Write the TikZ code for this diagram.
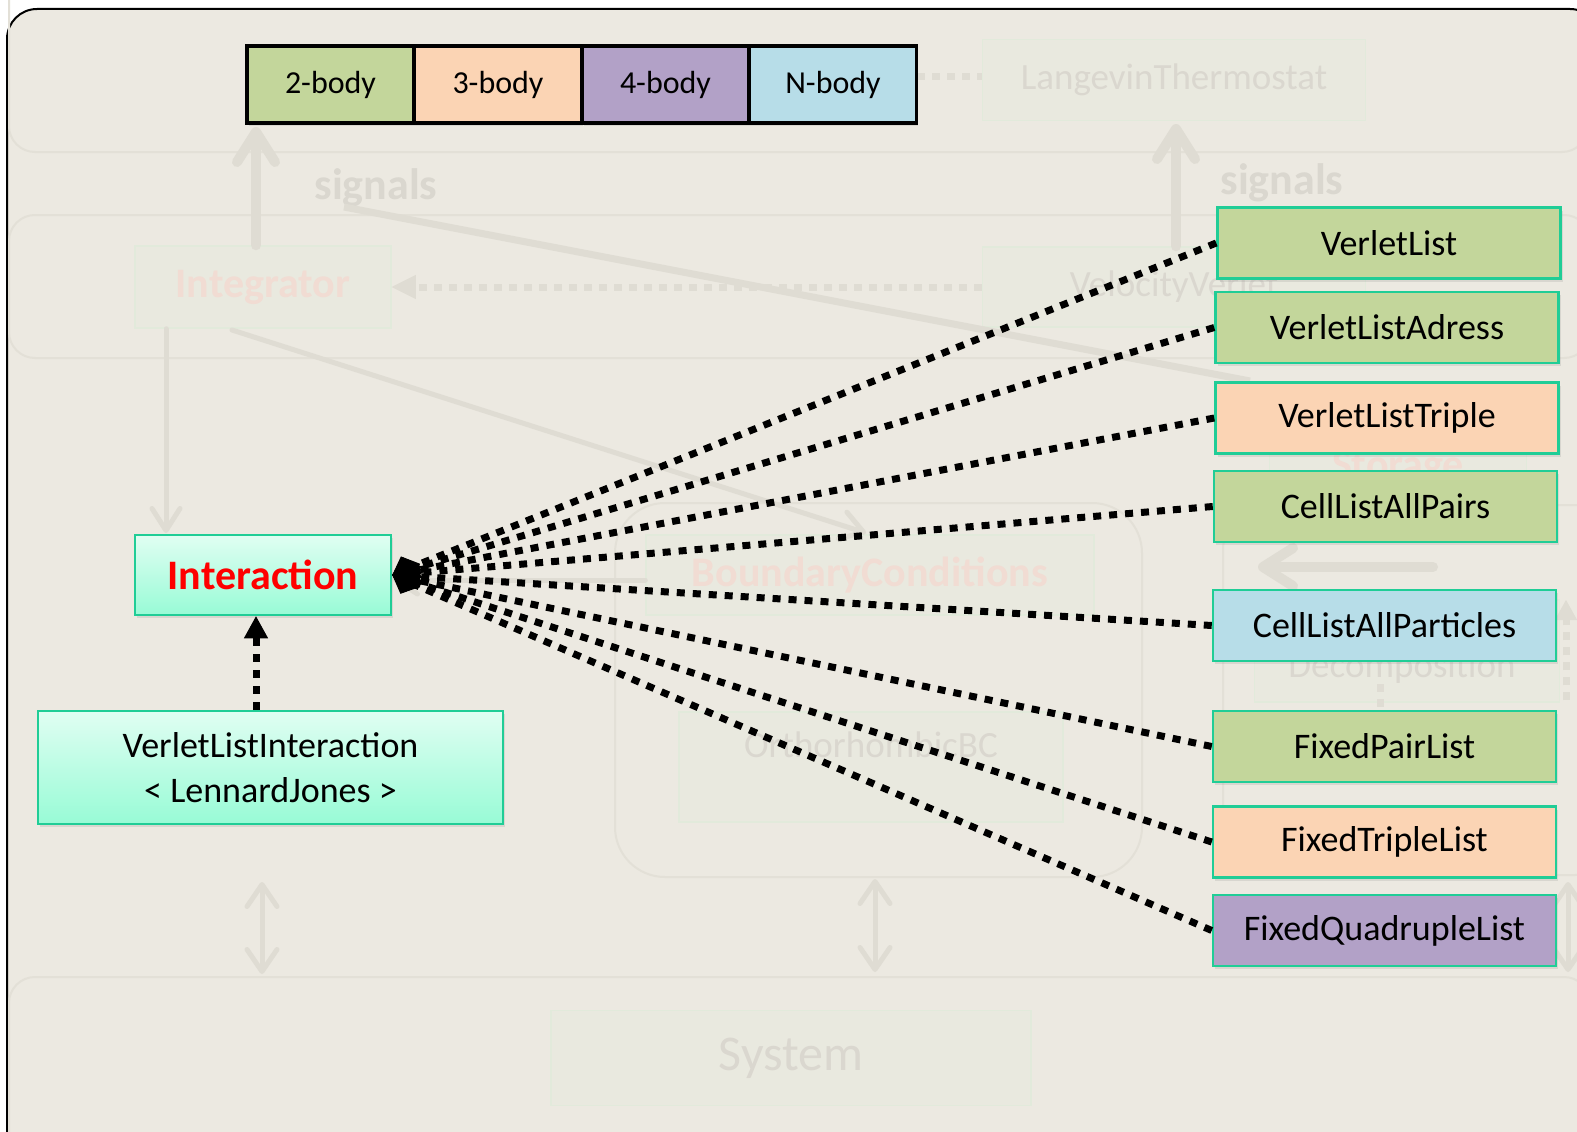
\documentclass[tikz,border=0pt]{standalone}
\usepackage{fontspec}
\setmainfont{Carlito}
\usetikzlibrary{arrows.meta,shadows}

% palette
\definecolor{pagebg}{HTML}{ECE9E1}
\definecolor{faintline}{HTML}{DFDCD3}
\definecolor{faintband}{HTML}{E3E0D7}
\definecolor{faintfill}{HTML}{E9E9DF}
\definecolor{faintedge}{HTML}{E2EADB}
\definecolor{fainttext}{HTML}{DAD7CF}
\definecolor{faintred}{HTML}{F1DCD3}
\definecolor{twobody}{HTML}{C3D69B}
\definecolor{threebody}{HTML}{FBD4B4}
\definecolor{fourbody}{HTML}{B2A1C7}
\definecolor{nbody}{HTML}{B7DDE8}
\definecolor{classedge}{HTML}{20CD96}
\definecolor{mintlight}{HTML}{E0FEF2}
\definecolor{mintdark}{HTML}{98FBD6}
\definecolor{keyred}{HTML}{FE0000}

% font sizes (1pt = 1px)
\newcommand\bdfont{\fontsize{32}{38}\selectfont}
\newcommand\clsfont{\fontsize{36}{45}\selectfont}
\newcommand\keyfont{\fontsize{42}{50}\selectfont\bfseries}
\newcommand\faintregfont{\fontsize{37}{46}\selectfont}
\newcommand\signalfont{\fontsize{44}{52}\selectfont\bfseries}

\tikzset{
  band/.style={draw=faintband, line width=2pt, rounded corners=26pt},
  group/.style={draw=faintband, line width=2pt},
  faintbox/.style={draw=faintedge, fill=faintfill, line width=1.5pt, inner sep=0pt},
  faintthick/.style={draw=faintline, line width=10pt, line cap=round,
    -{Straight Barb[length=30pt,width=38pt,round]}},
  faintthin/.style={draw=faintline, line width=5pt, line cap=round,
    -{Straight Barb[length=22pt,width=28pt,round]}},
  faintboth/.style={draw=faintline, line width=5pt,
    {Straight Barb[length=22pt,width=30pt,round]}-{Straight Barb[length=22pt,width=30pt,round]}},
  faintdots/.style={draw=faintline, line width=7pt, dash pattern=on 8pt off 7pt},
  bodybox/.style={draw=black, line width=3.5pt, minimum width=167pt, minimum height=77pt,
    inner sep=0pt, font=\bdfont,
    drop shadow={shadow xshift=1.5pt, shadow yshift=-3pt, opacity=0.18}},
  classbox/.style={draw=classedge, line width=2.5pt, minimum width=343pt, minimum height=71pt,
    inner sep=0pt, font=\clsfont,
    drop shadow={shadow xshift=2pt, shadow yshift=-3pt, opacity=0.18}},
  mintbox/.style={classbox, top color=mintlight, bottom color=mintdark},
  aggr/.style={line width=7pt, dash pattern=on 8pt off 8pt,
    -{Diamond[length=30pt,width=28pt,line width=1pt]}},
  realize/.style={line width=7pt, dash pattern=on 8pt off 8pt,
    -{Triangle[length=22pt,width=24pt,line width=1pt]}},
}

\begin{document}
\begin{tikzpicture}[x=1pt,y=-1pt]
\useasboundingbox (0,0) rectangle (1577,1132);
\fill[white] (0,0) rectangle (1577,1132);
\begin{scope}
\clip (0,0) rectangle (1577,1132);

% outer frame
\draw[line width=2pt, fill=pagebg, rounded corners=30pt] (7,9) rectangle (1600,1160);

% ---------- background layers ----------
\draw[band] (9,-40) rectangle (1588,152);
\draw[band] (9,215) rectangle (1590,358);
\draw[band] (9,977) rectangle (1590,1190);
\draw[group, rounded corners=50pt] (615,503) rectangle (1142,877);
\draw[group, rounded corners=45pt] (1223,505) rectangle (1620,875);

% background modules
\node[faintbox, minimum width=256pt, minimum height=82pt, font=\keyfont, text=faintred]
  (integ) at (263,287) {Integrator};
\node[faintbox, minimum width=383pt, minimum height=80pt, font=\faintregfont, text=fainttext]
  (vv) at (1174,287) {VelocityVerlet};
\node[faintbox, minimum width=383pt, minimum height=81pt, font=\faintregfont, text=fainttext]
  (lang) at (1174,80) {LangevinThermostat};
\node[faintbox, minimum width=448pt, minimum height=80pt, font=\keyfont, text=faintred]
  (bc) at (870,575) {BoundaryConditions};
\node[faintbox, minimum width=384pt, minimum height=110pt] (obc) at (871,767) {};
\node[font=\faintregfont, text=fainttext] (obctxt) at (871,745) {OrthorhombicBC};
\node[faintbox, minimum width=257pt, minimum height=120pt] (stor) at (1398,445) {};
\node[font=\keyfont, text=faintred] (stortxt) at (1398,468) {Storage};
\node[faintbox, minimum width=305pt, minimum height=102pt] (dd) at (1407,651) {};
\node[font=\faintregfont, text=fainttext] (ddtxt) at (1402,668) {Decomposition};
\node[faintbox, minimum width=480pt, minimum height=95pt, font=\fontsize{50}{60}\selectfont, text=fainttext]
  (sys) at (791,1058) {System};

\node[font=\signalfont, text=fainttext] (sig1) at (376,188) {signals};
\node[font=\signalfont, text=fainttext] (sig2) at (1282,183) {signals};

% background connectors
\coordinate (sigA) at (344,207);
\coordinate (sigB) at (1250,381);
\draw[draw=faintline, line width=7pt] (sigA) -- (sigB);
\draw[faintthick] (integ.north -| 256,0) -- (256,127);
\draw[faintthick] (vv.north -| 1176,0) -- (1176,124);
\draw[faintthin] (integ.south -| 166,0) -- (166,533);
\draw[faintthin] (232,330) -- (866,533);
\draw[faintthin] (bc.west |- 0,580) -- (393,580);
\draw[faintdots, -{Triangle[length=24pt,width=24pt,line width=1pt]}] (vv.west) -- (integ.east);
\draw[faintdots] (917,77) -- (lang.west |- 0,77);
\draw[faintthick] (1433,567) -- (1258,567);
\draw[faintdots] (1380,684) -- (1380,714);
\draw[faintdots, -{Triangle[length=20pt,width=22pt,line width=1pt]}] (1566,700) -- (1566,600);
\draw[faintboth] (262,882) -- (262,974);
\draw[faintboth] (875,879) -- (875,972);
\draw[faintboth] (1568,882) -- (1568,972);

% ---------- interaction categories ----------
\node[bodybox, fill=twobody]   (b2) at (330.5,84.5) {\raisebox{-3pt}{2-body}};
\node[bodybox, fill=threebody] (b3) at (498,84.5)   {\raisebox{-3pt}{3-body}};
\node[bodybox, fill=fourbody]  (b4) at (665.5,84.5) {\raisebox{-3pt}{4-body}};
\node[bodybox, fill=nbody]     (bn) at (833,84.5)   {\raisebox{-3pt}{N-body}};

% ---------- interaction classes ----------
\node[mintbox, minimum width=256pt, minimum height=80pt, font=\keyfont, text=keyred]
  (inter) at (263,575) {Interaction};
\node[mintbox, minimum width=465pt, minimum height=113pt, align=center]
  (vli) at (270.5,767.5) {VerletListInteraction\\< LennardJones >};

% ---------- pair / tuple lists ----------
\node[classbox, fill=twobody]   (vl)    at (1389,243)    {VerletList};
\node[classbox, fill=twobody]   (vla)   at (1387,327.5)  {VerletListAdress};
\node[classbox, fill=threebody] (vlt)   at (1387,418)    {VerletListTriple};
\node[classbox, fill=twobody]   (clap)  at (1385.5,506.5){CellListAllPairs};
\node[classbox, fill=nbody]     (clapt) at (1384.5,625.5){CellListAllParticles};
\node[classbox, fill=twobody]   (fpl)   at (1384.5,746.5){FixedPairList};
\node[classbox, fill=threebody] (ftl)   at (1384.5,842)  {FixedTripleList};
\node[classbox, fill=fourbody]  (fql)   at (1384.5,930.5){FixedQuadrupleList};

% connectors
\coordinate (up) at (256,0);
\draw[realize] (vli.north -| up) -- (inter.south -| up);
\foreach \t in {vl,vla,vlt,clap,clapt,fpl,ftl,fql}
  \draw[aggr] (\t.west) -- (inter.east);

\end{scope}
\end{tikzpicture}
\end{document}
